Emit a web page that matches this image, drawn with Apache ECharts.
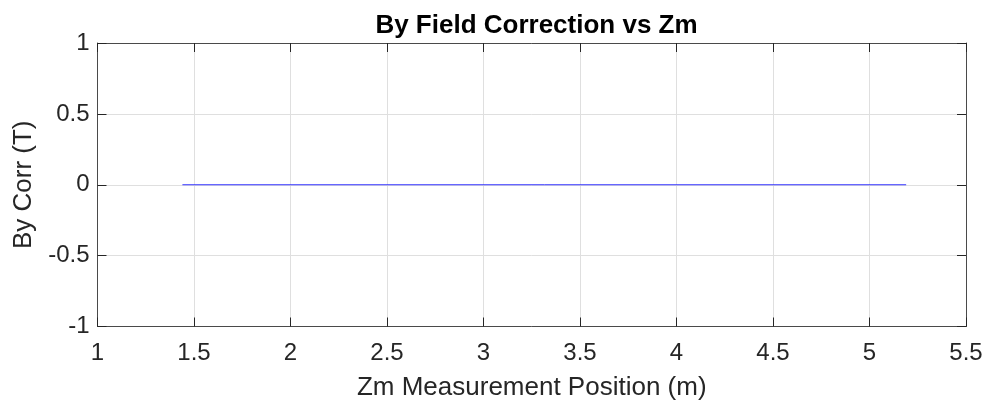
<!DOCTYPE html>
<html>
<head>
<meta charset="utf-8">
<script src="https://cdn.jsdelivr.net/npm/echarts@6/dist/echarts.min.js"></script>
<style>
html,body{margin:0;padding:0;background:#fff;}
#chart{width:987px;height:409px;}
</style>
</head>
<body>
<div id="chart"></div>
<script>
const zmPositions = [1.44, 5.19];
const byCorr = [0, 0];
const xTicks = [1, 1.5, 2, 2.5, 3, 3.5, 4, 4.5, 5, 5.5];
const yTicks = [-1, -0.5, 0, 0.5, 1];

const chart = echarts.init(document.getElementById('chart'), null, {renderer: 'canvas'});
const font = 'Liberation Sans, Arial, Helvetica, sans-serif';
const axisColor = '#4a4a4a';
const tickColor = '#262626';
const textColor = '#262626';
const fmt = v => String(v);
const common = {
  axisLine: {show: true, onZero: false, lineStyle: {color: axisColor, width: 1}},
  axisTick: {show: true, inside: true, length: 9, lineStyle: {color: tickColor, width: 1}},
  splitLine: {show: false}
};
const grid = {color: '#dfdfdf', width: 1};
chart.setOption({
  animation: false,
  title: {
    text: 'By Field Correction vs Zm',
    left: 531.5, top: 8, textAlign: 'center',
    textStyle: {fontFamily: font, fontSize: 26, fontWeight: 'bold', color: '#000'}
  },
  grid: {left: 97.5, right: 21, top: 43, bottom: 82.5, containLabel: false},
  xAxis: [
    Object.assign({
      type: 'value', min: 1, max: 5.5, interval: 0.5, position: 'bottom',
      name: 'Zm Measurement Position (m)', nameLocation: 'middle', nameGap: 48.5,
      nameTextStyle: {fontFamily: font, fontSize: 26, color: textColor},
      axisLabel: {fontFamily: font, fontSize: 24, color: textColor, margin: 14.5, formatter: fmt},
    }, common, {splitLine: {show: true, lineStyle: grid}}),
    Object.assign({
      type: 'value', min: 1, max: 5.5, interval: 0.5, position: 'top',
      axisLabel: {show: false}
    }, common)
  ],
  yAxis: [
    Object.assign({
      type: 'value', min: -1, max: 1, interval: 0.5, position: 'left',
      name: 'By Corr (T)', nameLocation: 'middle', nameGap: 49,
      nameTextStyle: {fontFamily: font, fontSize: 26, color: textColor},
      axisLabel: {fontFamily: font, fontSize: 24, color: textColor, margin: 8, formatter: fmt},
    }, common, {splitLine: {show: true, lineStyle: grid}}),
    Object.assign({
      type: 'value', min: -1, max: 1, interval: 0.5, position: 'right',
      axisLabel: {show: false}
    }, common)
  ],
  series: [{
    type: 'line',
    data: zmPositions.map((x, i) => [x, byCorr[i]]),
    showSymbol: false,
    symbol: 'none',
    lineStyle: {color: '#3333ff', width: 1},
    itemStyle: {color: '#3333ff'}
  }]
});
</script>
</body>
</html>
